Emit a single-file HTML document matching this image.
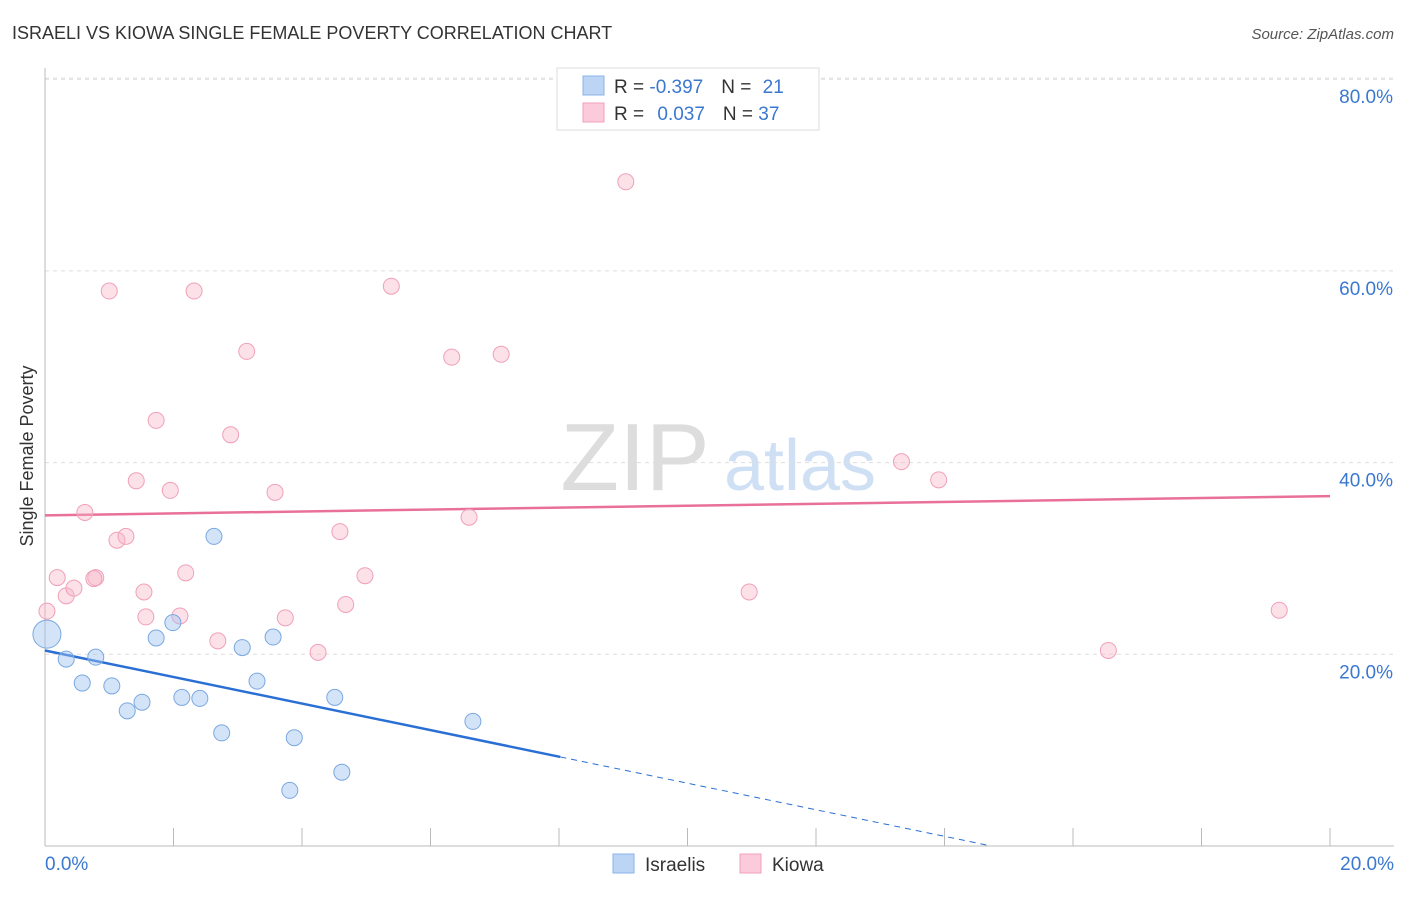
<!DOCTYPE html>
<html><head><meta charset="utf-8"><style>
body{margin:0;background:#fff;font-family:"Liberation Sans",sans-serif;}
svg text{font-family:"Liberation Sans",sans-serif;}
</style></head><body>
<svg id="chart" width="1406" height="892" xmlns="http://www.w3.org/2000/svg">
<text x="12" y="39" font-size="18" fill="#333">ISRAELI VS KIOWA SINGLE FEMALE POVERTY CORRELATION CHART</text>
<text x="1394" y="39" font-size="15" fill="#555" font-style="italic" text-anchor="end">Source: ZipAtlas.com</text>
<text x="33" y="456" font-size="18" fill="#333" transform="rotate(-90 33 456)" text-anchor="middle">Single Female Poverty</text>
<g><text x="635" y="490" font-size="96" fill="#ddd" font-family="Liberation Serif" text-anchor="middle">ZIP</text><text x="800" y="490" font-size="72" fill="#cfe0f5" text-anchor="middle">atlas</text></g>
<g id="grid"></g><g id="axes"></g><g id="lines"></g><g id="pts"></g>
<g>
<rect x="557" y="68" width="262" height="62" fill="#fff" stroke="#ddd"/>
<rect x="583" y="76" width="21" height="19" fill="#bcd5f5" stroke="#8ab4e8"/>
<rect x="583" y="103" width="21" height="19" fill="#fbcadb" stroke="#f0a0b8"/>
<text x="614" y="93" font-size="19" fill="#333">R = <tspan fill="#3a78d0">-0.397</tspan><tspan dx="18">N = </tspan><tspan fill="#3a78d0" dx="6">21</tspan></text>
<text x="614" y="120" font-size="19" fill="#333">R = <tspan fill="#3a78d0" dx="8">0.037</tspan><tspan dx="18">N = </tspan><tspan fill="#3a78d0">37</tspan></text>
</g>
<g>
<rect x="613" y="854" width="21" height="19" fill="#bcd5f5" stroke="#8ab4e8"/>
<text x="645" y="871" font-size="19" fill="#333">Israelis</text>
<rect x="740" y="854" width="21" height="19" fill="#fbcadb" stroke="#f0a0b8"/>
<text x="772" y="871" font-size="19" fill="#333">Kiowa</text>
</g>
</svg>
<script>
const xTicks=[0,20];
const yTicks=[20,40,60,80];
const israeliX=[0.03,0.33,0.58,0.79,1.04,1.28,1.51,1.73,1.99,2.13,2.41,2.63,2.75,3.07,3.30,3.55,3.88,3.81,4.51,4.62,6.66];
const israeliY=[22.1,19.5,17.0,19.7,16.7,14.1,15.0,21.7,23.3,15.5,15.4,32.3,11.8,20.7,17.2,21.8,11.3,5.8,15.5,7.7,13.0];
const kiowaX=[0.03,0.19,0.33,0.45,0.62,0.79,0.76,1.00,1.12,1.26,1.42,1.54,1.57,1.73,1.95,2.10,2.19,2.32,2.69,2.89,3.14,3.58,3.74,4.25,4.59,4.68,4.98,5.39,6.33,6.60,7.10,9.04,10.96,13.33,13.91,16.55,19.21];
const kiowaY=[24.5,28.0,26.1,26.9,34.8,28.0,27.9,57.9,31.9,32.3,38.1,26.5,23.9,44.4,37.1,24.0,28.5,57.9,21.4,42.9,51.6,36.9,23.8,20.2,32.8,25.2,28.2,58.4,51.0,34.3,51.3,69.3,26.5,40.1,38.2,20.4,24.6];
const israeliTrend=[20.4,-1.385];
const kiowaTrend=[34.5,0.1];
const NS='http://www.w3.org/2000/svg';
const sx=v=>45+v*64.25, sy=v=>846-v*9.585;
function mk(p,t,a){const e=document.createElementNS(NS,t);for(const k in a)e.setAttribute(k,a[k]);document.getElementById(p).appendChild(e);return e;}
yTicks.forEach(t=>{
 const l=mk('grid','line',{x1:45,x2:1394,y1:sy(t),y2:sy(t),stroke:'#ddd','stroke-dasharray':'4,4'});
 
 
 const tx=mk('grid','text',{x:1393,y:sy(t)+24,'font-size':19,fill:'#3a78d0','text-anchor':'end'});
 tx.textContent=t.toFixed(1)+'%';
 
 
});
mk('grid','line',{x1:45,x2:1394,y1:sy(80)-1,y2:sy(80)-1,stroke:'#ddd','stroke-dasharray':'4,4'});
const ax=mk('axes','line',{x1:45,x2:45,y1:68,y2:846,stroke:'#bbb'});


const bx=mk('axes','line',{x1:45,x2:1394,y1:846,y2:846,stroke:'#bbb'});


for(let i=0;i<=10;i++){const v=i*2;const t=mk('axes','line',{x1:sx(v),x2:sx(v),y1:828,y2:846,stroke:'#bbb'});
 
 }
xTicks.forEach((t,i)=>{const tx=mk('axes','text',{x:i==0?45:1394,y:870,'font-size':19,fill:'#3a78d0','text-anchor':i==0?'start':'end'});
 tx.textContent=t.toFixed(1)+'%';
 
 });
const ty=x=>israeliTrend[0]+israeliTrend[1]*x;
let l1=mk('lines','line',{x1:sx(0),y1:sy(ty(0)),x2:sx(8.02),y2:sy(ty(8.02)),stroke:'#2a6fd4','stroke-width':2.5});


let l2=mk('lines','line',{x1:sx(8.02),y1:sy(ty(8.02)),x2:sx(14.7),y2:sy(ty(14.7)),stroke:'#2a6fd4','stroke-width':1,'stroke-dasharray':'6,5'});


const tk=x=>kiowaTrend[0]+kiowaTrend[1]*x;
let l3=mk('lines','line',{x1:sx(0),y1:sy(tk(0)),x2:sx(20),y2:sy(tk(20)),stroke:'#e8709a','stroke-width':2.5});


kiowaX.forEach((x,i)=>{const c=mk('pts','circle',{cx:sx(x),cy:sy(kiowaY[i]),r:8,fill:'rgba(248,180,200,0.4)',stroke:'#f0a0b8','stroke-width':1});
 
 });
israeliX.forEach((x,i)=>{const c=mk('pts','circle',{cx:sx(x),cy:sy(israeliY[i]),r:i==0?14:8,fill:'rgba(160,196,240,0.45)',stroke:'#7aa8e0','stroke-width':1});
 
 });
</script>
</body></html>
